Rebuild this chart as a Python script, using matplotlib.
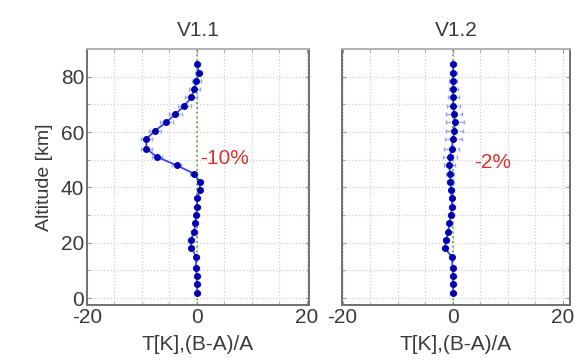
import matplotlib
matplotlib.use("Agg")
import matplotlib.pyplot as plt
from matplotlib.ticker import MultipleLocator

# Altitudes (km), top to bottom
altitude = [84.5, 81.5, 78.5, 75.5, 72.5, 69.5, 66.5, 63.5, 60.5, 57.5,
            54.0, 51.0, 48.0, 45.0, 42.0, 39.0, 36.0, 33.0, 30.0, 27.0,
            24.0, 21.0, 18.0, 15.0, 11.0, 8.0, 5.0, 2.0]

# V1.1 differences
v11_values = [0.1, 0.3, -0.1, -0.5, -1.0, -2.3, -3.9, -5.6, -7.6, -9.2,
              -9.2, -7.3, -3.7, -0.6, 0.6, 0.5, 0.1, 0.0, -0.1, -0.3,
              -0.5, -1.1, -1.0, -0.1, -0.2, 0.0, 0.0, 0.1]
v11_err = [0.5, 0.6, 0.8, 1.0, 1.1, 1.2, 1.2, 1.2, 1.1, 1.0,
           1.0, 0.9, 0.8, 0.6, 0.5, 0.5, 0.5, 0.5, 0.5, 0.5,
           0.5, 0.5, 0.5, 0.5, 0.5, 0.5, 0.5, 0.5]

# V1.2 differences
v12_values = [0.1, 0.1, 0.1, 0.1, 0.1, 0.1, 0.25, 0.4, 0.3, 0.1,
              -0.2, -0.5, -0.6, -0.5, -0.4, -0.25, -0.2, -0.1, -0.3, -0.6,
              -0.8, -1.2, -1.4, -0.2, 0.0, 0.1, 0.1, 0.1]
v12_err = [0.5, 0.6, 0.7, 0.8, 1.0, 1.2, 1.5, 1.6, 1.6, 1.5,
           1.4, 1.2, 1.0, 0.8, 0.6, 0.5, 0.5, 0.5, 0.5, 0.5,
           0.5, 0.5, 0.5, 0.5, 0.5, 0.5, 0.5, 0.5]

titles = ["V1.1", "V1.2"]
annotations = ["-10%", "-2%"]
annot_pos = [(0.5, 50.5), (3.9, 49.0)]
xlims = [(-20, 20.4), (-20.1, 21.3)]

plt.rcParams['font.family'] = ['Liberation Sans', 'DejaVu Sans']
plt.rcParams['axes.unicode_minus'] = False

fig = plt.figure(figsize=(5.8, 3.62), dpi=100)
ax1 = fig.add_axes([87/580, 57/362, 222/580, 256/362])
ax2 = fig.add_axes([342/580, 57/362, 228/580, 256/362])

tc = '#3a3a3a'
for i, (ax, vals, errs) in enumerate([(ax1, v11_values, v11_err), (ax2, v12_values, v12_err)]):
    ax.set_xlim(*xlims[i])
    ax.set_ylim(-2.5, 90)
    ax.xaxis.set_major_locator(MultipleLocator(20))
    ax.xaxis.set_minor_locator(MultipleLocator(5))
    ax.yaxis.set_major_locator(MultipleLocator(20))
    ax.yaxis.set_minor_locator(MultipleLocator(10))
    ax.grid(True, which='both', linestyle=':', color='#d0d0d0', linewidth=0.9)
    ax.set_axisbelow(True)
    ax.axvline(0, color='#66aa44', linestyle=':', linewidth=1.3, zorder=2)
    eb = ax.errorbar(vals, altitude, xerr=errs, fmt='-', color='#3a4ae0', lw=1.3,
                     marker='o', ms=4, mfc='#0000b0', mec='#0000b0',
                     ecolor='#95a5f0', elinewidth=0.9, capsize=1.5, zorder=3)
    for lc in eb[2]:
        lc.set_linestyle('--')
    ax.tick_params(which='both', direction='in', top=True, right=True,
                   colors='#999999', labelcolor=tc, labelsize=15, pad=2)
    ax.tick_params(which='major', length=3)
    ax.tick_params(which='minor', length=2)
    for s in ax.spines.values():
        s.set_color('#707070')
        s.set_linewidth(1.4)
    ax.spines['top'].set_color('#b0b0b0')
    ax.set_title(titles[i], fontsize=15, color=tc, pad=9)
    ax.set_xlabel("T[K],(B-A)/A", fontsize=15, color=tc, labelpad=6)
    ax.text(annot_pos[i][0], annot_pos[i][1], annotations[i], color='#e03030',
            fontsize=15, va='center', ha='left', zorder=4)

ax1.set_ylabel("Altitude [km]", fontsize=14, color=tc, labelpad=6)
ax2.set_yticklabels([])

fig.savefig("out.png", dpi=100)
